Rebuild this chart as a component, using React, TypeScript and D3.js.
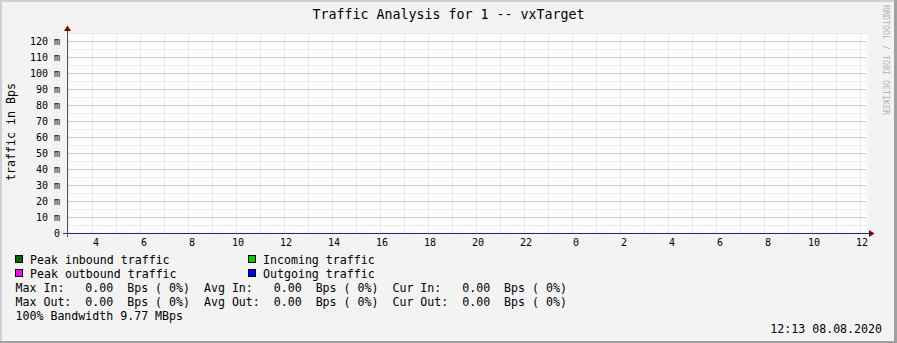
import React from "react";
import * as d3 from "d3";

// Sample times (every 2 hours across the graphed window) and traffic values in Bps
const sampleTimes: Date[] = [
  new Date(2020, 7, 7, 2, 57, 30),
  new Date(2020, 7, 7, 4, 0), new Date(2020, 7, 7, 6, 0), new Date(2020, 7, 7, 8, 0),
  new Date(2020, 7, 7, 10, 0), new Date(2020, 7, 7, 12, 0), new Date(2020, 7, 7, 14, 0),
  new Date(2020, 7, 7, 16, 0), new Date(2020, 7, 7, 18, 0), new Date(2020, 7, 7, 20, 0),
  new Date(2020, 7, 7, 22, 0), new Date(2020, 7, 8, 0, 0), new Date(2020, 7, 8, 2, 0),
  new Date(2020, 7, 8, 4, 0), new Date(2020, 7, 8, 6, 0), new Date(2020, 7, 8, 8, 0),
  new Date(2020, 7, 8, 10, 0), new Date(2020, 7, 8, 12, 0), new Date(2020, 7, 8, 12, 17, 30),
];
const peakIn: number[] = [0, 0, 0, 0, 0, 0, 0, 0, 0, 0, 0, 0, 0, 0, 0, 0, 0, 0, 0];
const incoming: number[] = [0, 0, 0, 0, 0, 0, 0, 0, 0, 0, 0, 0, 0, 0, 0, 0, 0, 0, 0];
const peakOut: number[] = [0, 0, 0, 0, 0, 0, 0, 0, 0, 0, 0, 0, 0, 0, 0, 0, 0, 0, 0];
const outgoing: number[] = [0, 0, 0, 0, 0, 0, 0, 0, 0, 0, 0, 0, 0, 0, 0, 0, 0, 0, 0];

const timeDomain: [Date, Date] = [new Date(2020, 7, 7, 2, 57, 30), new Date(2020, 7, 8, 12, 17, 30)];
const valueDomain: [number, number] = [0, 0.125];
const majorYTicks: number[] = [0, 0.01, 0.02, 0.03, 0.04, 0.05, 0.06, 0.07, 0.08, 0.09, 0.1, 0.11, 0.12];
const yTickLabels: string[] = ["0", "10 m", "20 m", "30 m", "40 m", "50 m", "60 m", "70 m", "80 m", "90 m", "100 m", "110 m", "120 m"];

const legendItems = [
  { label: "Peak inbound traffic", color: "#006600", col: 0, row: 0 },
  { label: "Incoming traffic", color: "#00CC00", col: 1, row: 0 },
  { label: "Peak outbound traffic", color: "#FF00FF", col: 0, row: 1 },
  { label: "Outgoing traffic", color: "#0000FF", col: 1, row: 1 },
];
const statLines: string[] = [
  "Max In:   0.00  Bps ( 0%)  Avg In:   0.00  Bps ( 0%)  Cur In:   0.00  Bps ( 0%)",
  "Max Out:  0.00  Bps ( 0%)  Avg Out:  0.00  Bps ( 0%)  Cur Out:  0.00  Bps ( 0%)",
  "100% Bandwidth 9.77 MBps",
];
const title = "Traffic Analysis for 1 -- vxTarget";
const yAxisTitle = "traffic in Bps";
const stamp = "12:13 08.08.2020";
const watermark = "RRDTOOL / TOBI OETIKER";

const W = 897;
const H = 343;
const MONO = "'DejaVu Sans Mono', monospace";

export default function App() {
  const x = d3.scaleTime().domain(timeDomain).range([67.5, 867.5]);
  const y = d3.scaleLinear().domain(valueDomain).range([233.5, 33.5]);
  const [x0, x1] = x.range();
  const [yBottom, yTop] = y.range();

  const hourTicks = x.ticks(d3.timeHour.every(1)!);
  const labelTicks = x.ticks(d3.timeHour.every(2)!);
  const fmtHour = d3.timeFormat("%-H");
  const minorY = d3.range(0, 26).map((i) => i * 0.005).filter((v) => v <= valueDomain[1] + 1e-9);

  const rows = sampleTimes.map((t, i) => ({ t, pin: peakIn[i], inc: incoming[i], pout: peakOut[i], out: outgoing[i] }));
  const area = (key: "pin" | "inc") =>
    d3.area<any>().x((d) => x(d.t)).y0(y(0)).y1((d) => y(d[key]))(rows) || "";
  const line = (key: "pout" | "out") => d3.line<any>().x((d) => x(d.t)).y((d) => y(d[key]))(rows) || "";

  return (
    <svg width={W} height={H} style={{ position: "absolute", left: 0, top: 0, display: "block" }}>
      {/* frame */}
      <rect x={0} y={0} width={W} height={H} fill="#f3f3f3" />
      <rect x={0} y={0} width={W} height={2} fill="#d0d0d0" />
      <rect x={0} y={0} width={2} height={H} fill="#d0d0d0" />
      <rect x={W - 3} y={0} width={3} height={H} fill="#a0a0a0" />
      <rect x={0} y={H - 2} width={W} height={2} fill="#a0a0a0" />

      {/* canvas */}
      <rect x={x0} y={yTop} width={x1 - x0} height={yBottom - yTop} fill="#ffffff" />

      {/* minor grid */}
      {minorY.map((v) => (
        <line key={"my" + v} x1={x0} x2={x1} y1={y(v)} y2={y(v)} stroke="#d6d6d6" strokeDasharray="1,1" />
      ))}
      {hourTicks.map((t) => (
        <line key={"mx" + t.getTime()} x1={x(t)} x2={x(t)} y1={yTop} y2={yBottom} stroke="#d6d6d6" strokeDasharray="1,1" />
      ))}
      {/* major grid */}
      {majorYTicks.map((v) => (
        <line key={"My" + v} x1={x0} x2={x1} y1={y(v)} y2={y(v)} stroke="#dca4a4" strokeDasharray="1,1" />
      ))}

      {/* data */}
      <path d={area("pin")} fill="#006600" />
      <path d={line("pout")} fill="none" stroke="#FF00FF" strokeWidth={1} />
      <path d={area("inc")} fill="#00CC00" />

      {/* axes */}
      <line x1={x0} x2={x0} y1={30} y2={237} stroke="#555555" />
      <line x1={63} x2={870} y1={yBottom} y2={yBottom} stroke="#404040" />
      <path d={line("out")} fill="none" stroke="#0000FF" strokeOpacity={0.5} strokeWidth={1} />
      <path d={`M${x0 - 3.5},31 L${x0 + 3.5},31 L${x0},25.5 Z`} fill="#7f0000" />
      <path d={`M${x1 + 1.5},${yBottom - 3.5} L${x1 + 1.5},${yBottom + 3.5} L${x1 + 7},${yBottom} Z`} fill="#7f0000" />

      {/* y labels */}
      {majorYTicks.map((v, i) => (
        <text key={"yl" + v} x={60} y={y(v) + 3.7} textAnchor="end" fontFamily={MONO} fontSize={10} fill="#000">
          {yTickLabels[i]}
        </text>
      ))}
      {/* x labels */}
      {labelTicks.map((t) => {
        const s = fmtHour(t);
        return (
          <text key={"xl" + t.getTime()} x={x(t) + (s.length === 1 ? 3.5 : 1.5)} y={245.5} textAnchor="middle" fontFamily={MONO} fontSize={10} fill="#000">
            {s}
          </text>
        );
      })}

      {/* titles */}
      <text x={448.5} y={18.5} textAnchor="middle" fontFamily={MONO} fontSize={13.3} fill="#000">
        {title}
      </text>
      <text transform="translate(14.5,132) rotate(-90)" textAnchor="middle" fontFamily={MONO} fontSize={11.6} fill="#000">
        {yAxisTitle}
      </text>
      <text transform="translate(883,60) rotate(90)" textAnchor="middle" fontFamily={MONO} fontSize={8.3} fill="#b4b4b4">
        {watermark}
      </text>

      {/* legend */}
      {legendItems.map((it) => {
        const bx = it.col === 0 ? 15.5 : 248.5;
        const by = 255.5 + it.row * 14;
        return (
          <g key={it.label}>
            <rect x={bx} y={by} width={7} height={7} fill={it.color} stroke="#000" />
            <text x={bx + 14.5} y={by + 8} fontFamily={MONO} fontSize={11.6} fill="#000">
              {it.label}
            </text>
          </g>
        );
      })}
      {statLines.map((s, i) => (
        <text key={"st" + i} x={15.5} y={291.5 + i * 14} fontFamily={MONO} fontSize={11.6} fill="#000" style={{ whiteSpace: "pre" }} xmlSpace="preserve">
          {s}
        </text>
      ))}
      <text x={882} y={333} textAnchor="end" fontFamily={MONO} fontSize={11.6} fill="#000">
        {stamp}
      </text>
    </svg>
  );
}
